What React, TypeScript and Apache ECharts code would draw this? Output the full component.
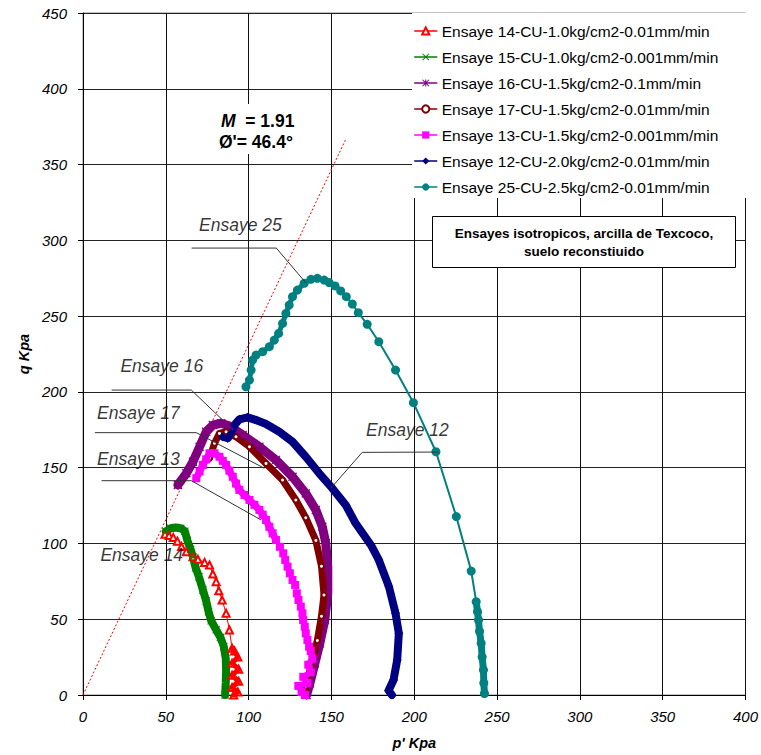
import React, { useEffect, useRef } from 'react';
import * as echarts from 'echarts';

const FONT = 'Liberation Sans, Arial, sans-serif';

const seriesNames = [
  'Ensaye 14-CU-1.0kg/cm2-0.01mm/min',
  'Ensaye 15-CU-1.0kg/cm2-0.001mm/min',
  'Ensaye 16-CU-1.5kg/cm2-0.1mm/min',
  'Ensaye 17-CU-1.5kg/cm2-0.01mm/min',
  'Ensaye 13-CU-1.5kg/cm2-0.001mm/min',
  'Ensaye 12-CU-2.0kg/cm2-0.01mm/min',
  'Ensaye 25-CU-2.5kg/cm2-0.01mm/min',
];
const seriesColors = ['#FF0000', '#008000', '#800080', '#800000', '#FF00FF', '#000080', '#008080'];

const xTicks = { min: 0, max: 400, interval: 50 };
const yTicks = { min: 0, max: 450, interval: 50 };

// Ensaye 14
const s14: number[][] = [
  [49.5, 106], [52, 105.2], [54.5, 104], [57, 101.5], [59.5, 98], [62.4, 94.6], [66.4, 91.3],
  [69.4, 89.5], [73.4, 87.5], [76.4, 85.8], [78.4, 79.8], [80.4, 74.8], [82, 68.8], [84, 62.7],
  [86.4, 53.9], [88.4, 42.9], [90, 30.8],
  [91.5, 29], [93.5, 25], [90, 21], [94, 17], [90, 13], [94, 9], [90, 5], [93.5, 2], [91, 0],
];
// Ensaye 15
const s15: number[][] = [
  [50, 108], [53, 110], [56, 110.5], [59, 110], [61.5, 108], [63, 102], [65, 96], [66.4, 91],
  [68, 84], [70, 78], [72.4, 69.3], [74.4, 62], [75.8, 55], [77.4, 49], [80.4, 43], [83, 38],
  [85, 32], [86.2, 24], [86.4, 16], [86.2, 8], [85.8, 0],
];
// Ensaye 16
const s16: number[][] = [
  [57.3, 138.6], [62.4, 146.3], [66.4, 153.9], [70.4, 163.8], [74.4, 173.7], [78.4, 178.1],
  [83.4, 179.3], [88.4, 177.5], [96.4, 171.5], [106.5, 163.8], [116.5, 155.1], [126.5, 144],
  [134.5, 133], [140.6, 122.1], [144.5, 111], [146.6, 100.1], [147.8, 84.7], [147.8, 67.1],
  [146, 49.5], [143, 34.1], [140, 20.9], [137, 7.7], [135, 0],
];
// Ensaye 17
const s17: number[][] = [
  [76.4, 156.2], [79.4, 166.1], [82.4, 172.6], [86.4, 173.7], [92.4, 170.4], [100.5, 163.8],
  [110.5, 152.8], [120.5, 141.9], [128.5, 128.7], [134.5, 117], [140.6, 102], [144, 85],
  [145.5, 66], [144, 52], [141.5, 36], [137.6, 18.7], [134.5, 6], [133.5, 0],
];
// Ensaye 13
const s13: number[][] = [
  [68.4, 143], [70.4, 147.5], [72.4, 151.8], [74.4, 155.5], [76.4, 159.5], [79.4, 159.5],
  [82.4, 157.2], [84.4, 154.5], [86.4, 151.8], [88.4, 148], [90.4, 144], [92.4, 139.5],
  [94.4, 135.3], [97.5, 132], [100.5, 128.7], [103.5, 125.5], [106.5, 122.1], [108.5, 119],
  [110.5, 115.5], [112.5, 111], [114.5, 106.7],
  [116.5, 102.3], [118.9, 97.8], [120.9, 93.5], [122.1, 89.1], [123.5, 84.7], [124.9, 80.3],
  [126.5, 75.9], [128.1, 72.6], [129.1, 67.1], [130.1, 62.7], [131.5, 58.3], [132.5, 53.9],
  [132.9, 49.5], [133.9, 45.1], [134.5, 40.7], [135.5, 36.3], [136.5, 31.9],
  [137.5, 29], [138.5, 24], [136, 20], [137.5, 15], [133, 12], [135.5, 8], [130, 6], [132, 2], [134, 0],
];
// Ensaye 12
const s12: number[][] = [
  [84.4, 170.4], [87.4, 169.4], [89.4, 172.6], [91.4, 178.1], [94.4, 181.9], [99.4, 183.2],
  [104.5, 181.4], [110.5, 178.8], [118.5, 173.7], [126.5, 167.1], [134.5, 157.2], [142.6, 146.3],
  [150.6, 136.3], [158.6, 125.4], [164.6, 113.3], [173.8, 99], [178.6, 89.1], [184.7, 71.5],
  [188.7, 53.9], [190.7, 40.7], [189.7, 23.1], [187.5, 9.9], [184.5, 3], [186.5, 0],
];
// Ensaye 25
const s25: number[][] = [
  [98.4, 203.4], [100.5, 207.8], [101.5, 214.4], [102.4, 221], [104.5, 224.3], [108.5, 226.5],
  [112.5, 229.8], [115.5, 234.2], [118.1, 238.6], [120.5, 245.2], [122.5, 251.8], [124.5, 257.3],
  [126.5, 262.8], [129.5, 267.2], [133.5, 271.6], [137.6, 274.3], [141.5, 274.9], [145.6, 273.8],
  [148.6, 272.1], [152.2, 269.9], [155.6, 266.6], [159, 262.8], [162.6, 258], [166.2, 252.3],
  [171.6, 244.6], [178.6, 233.1], [188.7, 214.4], [199.5, 192.9], [213.1, 160.5], [225.4, 117.7],
  [234.4, 81.8], [237.4, 61.6], [238.2, 55], [238.8, 49.5], [239.4, 42], [240.4, 34.1],
  [241, 25], [241.8, 16.5], [242, 8], [242.4, 1],
];

// Failure line M
const mLine: number[][] = [[0, 0], [158.6, 366.6]];

// Annotation labels (left edge, vertical centre) and leader lines
const labelTexts = ['Ensaye 25', 'Ensaye 16', 'Ensaye 17', 'Ensaye 13', 'Ensaye 14', 'Ensaye 12'];
const labelPos: number[][] = [[69.8, 310.1], [22.3, 217.1], [8.2, 185.9], [8.2, 155.5], [10.2, 92.4], [170.6, 174.8]];
const leaders: number[][][] = [
  [[65.6, 294.9], [116.7, 294.9], [134.7, 271.8]],
  [[17.3, 201.2], [65.4, 201.2], [85.4, 180.3]],
  [[7.2, 173.1], [68.4, 173.1], [109.5, 149.6]],
  [[11.2, 141.4], [65.4, 141.4], [107.5, 115.5]],
  [[214.7, 160.3], [168.6, 160.1], [149.6, 136.4]],
];

const X_SYM = 'path://M1,0L5,4L9,0L10,1L6,5L10,9L9,10L5,6L1,10L0,9L4,5L0,1Z';
const STAR_SYM = 'path://M1,0L5,4L9,0L10,1L6,5L10,9L9,10L5,6L1,10L0,9L4,5L0,1Z M4.3,0L5.7,0L5.7,10L4.3,10Z';

function mainSeries(i: number, data: number[][], symbol: string, symbolSize: number, width: number) {
  const c = seriesColors[i];
  return {
    type: 'line',
    name: seriesNames[i],
    data,
    symbol,
    symbolSize,
    showAllSymbol: true,
    silent: true,
    lineStyle: { color: c, width, join: 'round', cap: 'round' },
    itemStyle: { color: c, borderColor: c, borderWidth: symbol.indexOf('empty') === 0 ? 1.2 : 0 },
    z: 3,
  };
}

function helper(i: number, data: number[][], width: number, z = 3) {
  return {
    type: 'line',
    data,
    symbol: 'none',
    silent: true,
    lineStyle: { color: seriesColors[i], width, join: 'round', cap: 'round' },
    z,
  };
}

export default function App() {
  const ref = useRef<HTMLDivElement>(null);
  useEffect(() => {
    document.body.style.margin = '0';
    const chart = echarts.init(ref.current!, null, { renderer: 'svg' });
    const option: any = {
      animation: false,
      backgroundColor: '#fff',
      textStyle: { fontFamily: FONT },
      grid: {
        left: 83, right: 13, top: 13, bottom: 60,
        show: true, borderColor: '#888', borderWidth: 1, backgroundColor: '#fff',
      },
      xAxis: {
        type: 'value', ...xTicks,
        name: "p' Kpa", nameLocation: 'middle', nameGap: 40,
        nameTextStyle: { fontFamily: FONT, fontSize: 14.5, fontWeight: 'bold', fontStyle: 'italic', color: '#000' },
        axisLine: { show: true, lineStyle: { color: '#000', width: 1 } },
        axisTick: { show: true, inside: false, length: 5, lineStyle: { color: '#000' } },
        axisLabel: { fontFamily: FONT, fontSize: 15, fontStyle: 'italic', color: '#000', margin: 14 },
        splitLine: { show: true, lineStyle: { color: '#111', width: 1 } },
      },
      yAxis: {
        type: 'value', ...yTicks,
        name: 'q Kpa', nameLocation: 'middle', nameGap: 41, nameRotate: 90,
        nameTextStyle: { fontFamily: FONT, fontSize: 14.5, fontWeight: 'bold', fontStyle: 'italic', color: '#000' },
        axisLine: { show: true, lineStyle: { color: '#000', width: 1 } },
        axisTick: { show: true, inside: false, length: 5, lineStyle: { color: '#000' } },
        axisLabel: { fontFamily: FONT, fontSize: 15, fontStyle: 'italic', color: '#000', margin: 16 },
        splitLine: { show: true, lineStyle: { color: '#222', width: 1 } },
      },
      legend: {
        data: seriesNames,
        orient: 'vertical',
        left: 412, top: 13,
        padding: [10, 28, 3, 2],
        itemGap: 10,
        itemWidth: 22,
        itemHeight: 9,
        backgroundColor: '#fff',
        lineStyle: { width: 1.5 },
        textStyle: { fontFamily: FONT, fontSize: 15.5, color: '#000', lineHeight: 16 },
        selectedMode: false,
      },
      series: [
        {
          type: 'line', data: mLine, symbol: 'none', silent: true,
          lineStyle: { color: '#FF0000', width: 1, type: [2, 2] }, z: 2,
        },
        mainSeries(0, s14, 'emptyTriangle', 7, 1),
        helper(0, s14.slice(16), 5, 4),
        mainSeries(1, s15, X_SYM, 8, 8),
        mainSeries(2, s16, STAR_SYM, 9, 9),
        mainSeries(3, s17, 'emptyCircle', 5, 7),
        mainSeries(4, s13, 'rect', 8, 1.5),
        helper(4, s13.slice(0, 22), 7),
        helper(4, s13.slice(37), 6, 4),
        mainSeries(5, s12, 'diamond', 9, 8),
        mainSeries(6, s25, 'circle', 9, 2),
        helper(6, s25.slice(0, 17), 5),
        helper(6, s25.slice(31), 7, 4),
        {
          type: 'lines', coordinateSystem: 'cartesian2d', polyline: true, silent: true,
          data: leaders.map((c) => ({ coords: c })),
          lineStyle: { color: '#333', width: 1, opacity: 1 }, z: 5,
        },
        {
          type: 'scatter', silent: true, symbolSize: 1,
          itemStyle: { color: 'rgba(0,0,0,0)' },
          data: labelPos.map((p, k) => ({ value: p, name: labelTexts[k] })),
          label: {
            show: true, position: 'right', distance: 0, formatter: '{b}',
            fontFamily: FONT, fontSize: 17.5, fontStyle: 'italic', color: '#000',
          },
          z: 6,
        },
      ],
      graphic: [
        { type: 'rect', z: 100, shape: { x: 212, y: 104, width: 90, height: 50 }, style: { fill: '#fff' } },
        {
          type: 'text', z: 101, x: 221, y: 121,
          style: {
            text: '{m|M}{n|  = 1.91}', align: 'left', verticalAlign: 'middle',
            rich: {
              m: { fontFamily: FONT, fontSize: 17.5, fontWeight: 'bold', fontStyle: 'italic', fill: '#000' },
              n: { fontFamily: FONT, fontSize: 17.5, fontWeight: 'bold', fill: '#000' },
            },
          },
        },
        {
          type: 'text', z: 101, x: 219, y: 142,
          style: { text: "Ø'= 46.4°", align: 'left', verticalAlign: 'middle', fontFamily: FONT, fontSize: 17.5, fontWeight: 'bold', fill: '#000' },
        },
        { type: 'rect', z: 100, shape: { x: 432.5, y: 216.5, width: 303, height: 51 }, style: { fill: '#fff', stroke: '#000', lineWidth: 1 } },
        {
          type: 'text', z: 101, x: 584, y: 233.5,
          style: { text: 'Ensayes isotropicos, arcilla de Texcoco,', align: 'center', verticalAlign: 'middle', fontFamily: FONT, fontSize: 13.5, fontWeight: 'bold', fill: '#000' },
        },
        {
          type: 'text', z: 101, x: 584, y: 251.5,
          style: { text: 'suelo reconstiuido', align: 'center', verticalAlign: 'middle', fontFamily: FONT, fontSize: 13.5, fontWeight: 'bold', fill: '#000' },
        },
      ],
    };
    chart.setOption(option);
    return () => chart.dispose();
  }, []);
  return <div ref={ref} style={{ width: 761, height: 755 }} />;
}
